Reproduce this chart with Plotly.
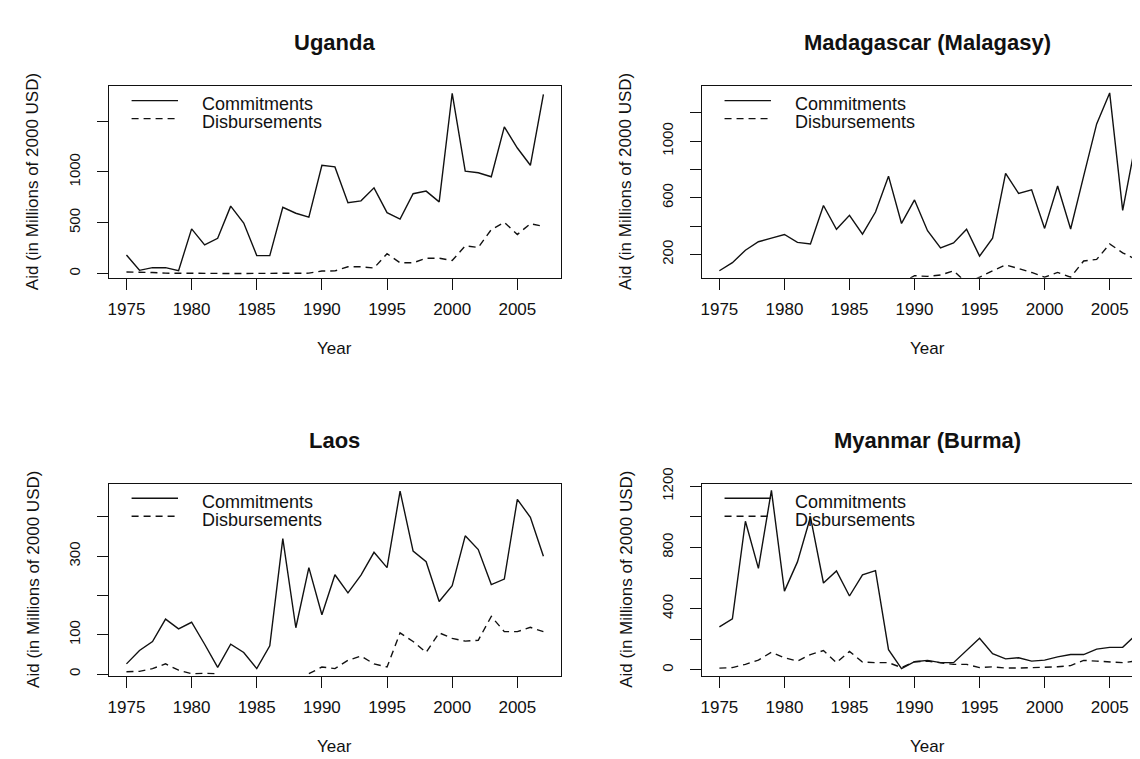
import plotly.graph_objects as go

W, H = 1140, 759

years = list(range(1975, 2008))
x_ticks = [1975, 1980, 1985, 1990, 1995, 2000, 2005]

countries = ["Uganda", "Madagascar (Malagasy)", "Laos", "Myanmar (Burma)"]

uganda_commit = [183, 32, 58, 58, 29, 440, 282, 347, 664, 497, 177, 177, 652, 594, 555,
                 1066, 1050, 697, 716, 844, 600, 536, 786, 812, 706, 1775, 1008, 992, 953,
                 1444, 1236, 1066, 1765]
uganda_disb = [16, 16, 10, 4, 2, 1, 1, 1, 1, 1, 1, 1, 1, 1, 4,
               25, 26, 67, 67, 55, 196, 106, 106, 151, 151, 128, 273, 257, 433,
               504, 385, 491, 465]

madagascar_commit = [85, 142, 230, 290, 315, 341, 285, 274, 546, 378, 477, 343, 500, 753, 419,
                     585, 368, 246, 281, 378, 188, 315, 772, 631, 656, 384, 684, 380, 753,
                     1122, 1341, 511, 991]
madagascar_disb = [0, 0, 0, 0, 0, 0, 0, 0, 0, 0, 0, 0, 0, 0, 0,
                   50, 45, 55, 85, 0, 39, 85, 126, 101, 73, 39, 73, 39, 154,
                   165, 274, 212, 165]

laos_commit = [26, 60, 83, 140, 115, 132, 76, 17, 76, 55, 14, 72, 345, 118, 271,
               151, 253, 207, 252, 310, 271, 466, 313, 286, 185, 225, 352, 317, 228,
               242, 445, 399, 300]
laos_disb = [6, 7, 14, 26, 10, 1, 2, 1, None, None, None, None, None, None, 1,
             18, 14, 35, 46, 26, 18, 105, 83, 55, 105, 91, 84, 86, 147,
             108, 108, 119, 108]

myanmar_commit = [281, 334, 972, 664, 1174, 515, 706, 1000, 568, 647, 483, 621, 649, 132, 8,
                  53, 62, 47, 47, 128, 206, 106, 72, 79, 57, 64, 85, 100, 100,
                  136, 147, 147, 228]
myanmar_disb = [11, 15, 36, 64, 115, 79, 57, 100, 126, 47, 121, 51, 47, 47, 15,
                53, 57, 47, 36, 36, 15, 20, 12, 12, 15, 18, 20, 28, 62,
                57, 53, 47, 57]

commitments = [uganda_commit, madagascar_commit, laos_commit, myanmar_commit]
disbursements = [uganda_disb, madagascar_disb, laos_disb, myanmar_disb]

y_tickvals = [[0, 500, 1000, 1500],
              [200, 400, 600, 800, 1000, 1200],
              [0, 100, 200, 300, 400],
              [0, 200, 400, 600, 800, 1000, 1200]]
y_ticktext = [["0", "500", "1000", ""],
              ["200", "", "600", "", "1000", ""],
              ["0", "100", "", "300", ""],
              ["0", "", "400", "", "800", "", "1200"]]
y_ranges = [[-42, 1847], [35, 1390], [-4, 485], [-38, 1218]]

# panel boxes in pixels: left, right, top, bottom
boxes = [(99.3, 551.7, 63.3, 259.3),
         (693.3, 1145.0, 63.3, 259.3),
         (99.3, 551.7, 469.5, 665.7),
         (693.3, 1145.0, 469.5, 665.7)]

FONT = "Liberation Sans"
INK = "#111111"

def fx(p):
    return p / W

def fy(p):
    return 1 - p / H

fig = go.Figure()
annotations = []
shapes = []
layout = {}

for i in range(4):
    L, R, T, B = boxes[i]
    xdom_r = min(R, W)
    x0, x1 = 1973.67, 2008.33
    xr = [x0, x0 + (x1 - x0) * (xdom_r - L) / (R - L)]
    xa = "xaxis" if i == 0 else f"xaxis{i+1}"
    ya = "yaxis" if i == 0 else f"yaxis{i+1}"
    xs = "x" if i == 0 else f"x{i+1}"
    ys = "y" if i == 0 else f"y{i+1}"

    fig.add_trace(go.Scatter(x=years, y=commitments[i], mode="lines", xaxis=xs, yaxis=ys,
                             line=dict(color=INK, width=1.4), showlegend=False,
                             connectgaps=False))
    fig.add_trace(go.Scatter(x=years, y=disbursements[i], mode="lines", xaxis=xs, yaxis=ys,
                             line=dict(color=INK, width=1.4, dash="7px,5px"), showlegend=False,
                             connectgaps=False))

    layout[xa] = dict(domain=[fx(L), fx(xdom_r)], range=xr, anchor=ys,
                      tickvals=x_ticks, ticktext=[str(v) for v in x_ticks],
                      ticks="outside", ticklen=11, tickwidth=1.3, tickcolor=INK,
                      showline=True, linecolor=INK, linewidth=1.3, mirror=True,
                      showgrid=False, zeroline=False,
                      tickfont=dict(family=FONT, size=17, color=INK),
                      ticklabelstandoff=5)
    layout[ya] = dict(domain=[fy(B), fy(T)], range=y_ranges[i], anchor=xs,
                      tickvals=y_tickvals[i], ticktext=y_ticktext[i],
                      ticks="outside", ticklen=11, tickwidth=1.3, tickcolor=INK,
                      showline=True, linecolor=INK, linewidth=1.3,
                      mirror=(R <= W), showgrid=False, zeroline=False,
                      tickangle=-90,
                      tickfont=dict(family=FONT, size=15, color=INK),
                      ticklabelstandoff=11)

    cx = (L + R) / 2
    annotations.append(dict(text="<b>" + countries[i] + "</b>", x=fx(cx), y=fy(T - 44.5),
                            xref="paper", yref="paper", showarrow=False,
                            xanchor="center", yanchor="middle",
                            font=dict(family=FONT, size=22, color=INK)))
    annotations.append(dict(text="Year", x=fx(cx), y=fy(B + 72), xref="paper", yref="paper",
                            showarrow=False, xanchor="center", yanchor="middle",
                            font=dict(family=FONT, size=17, color=INK)))
    annotations.append(dict(text="Aid (in Millions of 2000 USD)", x=fx(L - 76), y=fy((T + B) / 2),
                            xref="paper", yref="paper", showarrow=False, textangle=-90,
                            xanchor="center", yanchor="middle",
                            font=dict(family=FONT, size=17, color=INK)))
    for k, (lab, dash) in enumerate([("Commitments", "solid"), ("Disbursements", "7px,5px")]):
        ly = T + 15 + k * 18.4
        shapes.append(dict(type="line", xref="paper", yref="paper",
                           x0=fx(L + 22.5), x1=fx(L + 69), y0=fy(ly), y1=fy(ly),
                           line=dict(color=INK, width=1.4, dash=dash)))
        annotations.append(dict(text=lab, x=fx(L + 91), y=fy(ly + 3.5), xref="paper", yref="paper",
                                showarrow=False, xanchor="left", yanchor="middle",
                                font=dict(family=FONT, size=18, color=INK)))

fig.update_layout(width=W, height=H, margin=dict(l=0, r=0, t=0, b=0),
                  paper_bgcolor="white", plot_bgcolor="white",
                  annotations=annotations, shapes=shapes, **layout)

fig.write_html("out.html")
